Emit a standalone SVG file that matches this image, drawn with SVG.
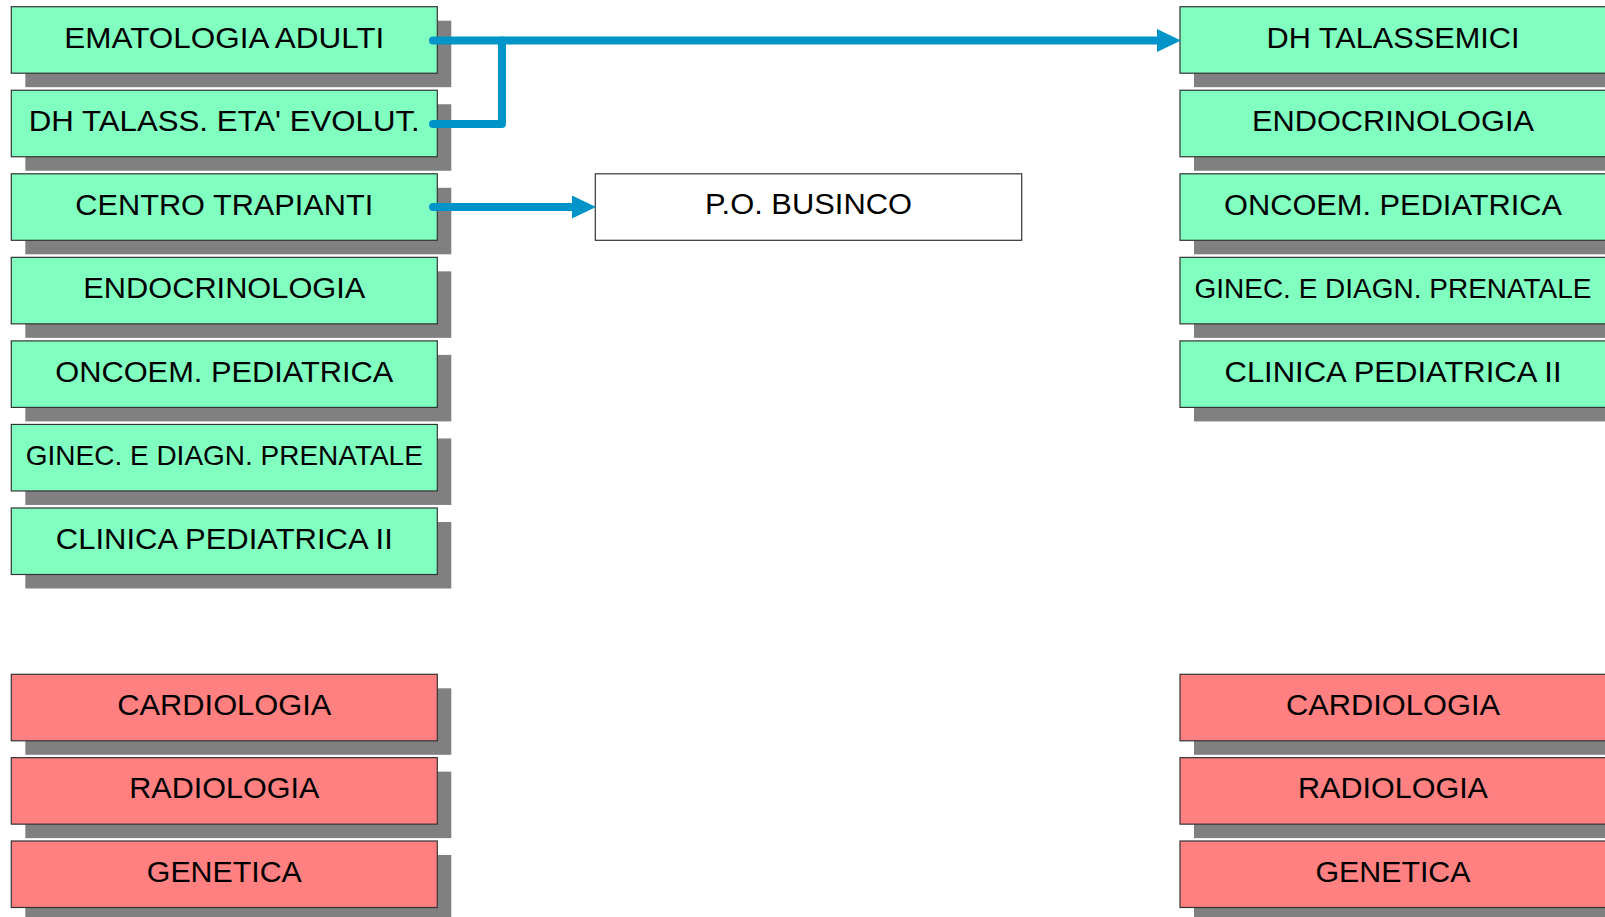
<svg xmlns="http://www.w3.org/2000/svg" width="1605" height="917" viewBox="0 0 1605 917">
<style>
.sh{fill:#808080}
.g{fill:#80ffc0;stroke:#333;stroke-width:1.2}
.r{fill:#ff8080;stroke:#333;stroke-width:1.2}
.w{fill:#fff;stroke:#333;stroke-width:1.2}
text{font-family:"Liberation Sans",Arial,sans-serif;font-size:29px;fill:#000;text-anchor:middle}
.s{font-size:28px}
.c{fill:none;stroke:#0094c8;stroke-width:8;stroke-linecap:round;stroke-linejoin:round}
</style>
<defs>
<marker id="ah" markerUnits="userSpaceOnUse" markerWidth="26" markerHeight="26" refX="0" refY="11.5" orient="auto" overflow="visible">
<path d="M0,0 L24,11.5 L0,23 Z" fill="#0094c8"/>
</marker>
</defs>
<rect width="1605" height="917" fill="#fff"/>

<g id="l1"><rect class="sh" x="25.3" y="20.7" width="426" height="66.5"/><rect class="g" x="11.3" y="6.7" width="426" height="66.5"/><text x="224.3" y="47.7" textLength="320" lengthAdjust="spacingAndGlyphs">EMATOLOGIA ADULTI</text></g>
<g id="l2"><rect class="sh" x="25.3" y="104.25" width="426" height="66.5"/><rect class="g" x="11.3" y="90.25" width="426" height="66.5"/><text x="224.3" y="131.2" textLength="391" lengthAdjust="spacingAndGlyphs">DH TALASS. ETA' EVOLUT.</text></g>
<g id="l3"><rect class="sh" x="25.3" y="187.8" width="426" height="66.5"/><rect class="g" x="11.3" y="173.8" width="426" height="66.5"/><text x="224.3" y="214.8" textLength="298" lengthAdjust="spacingAndGlyphs">CENTRO TRAPIANTI</text></g>
<g id="l4"><rect class="sh" x="25.3" y="271.35" width="426" height="66.5"/><rect class="g" x="11.3" y="257.35" width="426" height="66.5"/><text x="224.3" y="298.3" textLength="282" lengthAdjust="spacingAndGlyphs">ENDOCRINOLOGIA</text></g>
<g id="l5"><rect class="sh" x="25.3" y="354.9" width="426" height="66.5"/><rect class="g" x="11.3" y="340.9" width="426" height="66.5"/><text x="224.3" y="381.9" textLength="338" lengthAdjust="spacingAndGlyphs">ONCOEM. PEDIATRICA</text></g>
<g id="l6"><rect class="sh" x="25.3" y="438.45" width="426" height="66.5"/><rect class="g" x="11.3" y="424.45" width="426" height="66.5"/><text class="s" x="224.3" y="465.4" textLength="397" lengthAdjust="spacingAndGlyphs">GINEC. E DIAGN. PRENATALE</text></g>
<g id="l7"><rect class="sh" x="25.3" y="522" width="426" height="66.5"/><rect class="g" x="11.3" y="508" width="426" height="66.5"/><text x="224.3" y="549" textLength="337" lengthAdjust="spacingAndGlyphs">CLINICA PEDIATRICA II</text></g>

<g id="l8"><rect class="sh" x="25.3" y="688.3" width="426" height="66.5"/><rect class="r" x="11.3" y="674.3" width="426" height="66.5"/><text x="224.3" y="715" textLength="214" lengthAdjust="spacingAndGlyphs">CARDIOLOGIA</text></g>
<g id="l9"><rect class="sh" x="25.3" y="771.65" width="426" height="66.5"/><rect class="r" x="11.3" y="757.65" width="426" height="66.5"/><text x="224.3" y="798.4" textLength="190" lengthAdjust="spacingAndGlyphs">RADIOLOGIA</text></g>
<g id="l10"><rect class="sh" x="25.3" y="855" width="426" height="66.5"/><rect class="r" x="11.3" y="841" width="426" height="66.5"/><text x="224.3" y="881.7" textLength="155" lengthAdjust="spacingAndGlyphs">GENETICA</text></g>

<g id="busi"><rect class="w" x="595.3" y="173.8" width="426.4" height="66.5"/><text x="808.5" y="214.2" textLength="207" lengthAdjust="spacingAndGlyphs">P.O. BUSINCO</text></g>

<g id="r1"><rect class="sh" x="1194" y="20.7" width="426" height="66.5"/><rect class="g" x="1180" y="6.7" width="426" height="66.5"/><text x="1393" y="47.7" textLength="253" lengthAdjust="spacingAndGlyphs">DH TALASSEMICI</text></g>
<g id="r2"><rect class="sh" x="1194" y="104.25" width="426" height="66.5"/><rect class="g" x="1180" y="90.25" width="426" height="66.5"/><text x="1393" y="131.2" textLength="282" lengthAdjust="spacingAndGlyphs">ENDOCRINOLOGIA</text></g>
<g id="r3"><rect class="sh" x="1194" y="187.8" width="426" height="66.5"/><rect class="g" x="1180" y="173.8" width="426" height="66.5"/><text x="1393" y="214.8" textLength="338" lengthAdjust="spacingAndGlyphs">ONCOEM. PEDIATRICA</text></g>
<g id="r4"><rect class="sh" x="1194" y="271.35" width="426" height="66.5"/><rect class="g" x="1180" y="257.35" width="426" height="66.5"/><text class="s" x="1393" y="298.3" textLength="397" lengthAdjust="spacingAndGlyphs">GINEC. E DIAGN. PRENATALE</text></g>
<g id="r5"><rect class="sh" x="1194" y="354.9" width="426" height="66.5"/><rect class="g" x="1180" y="340.9" width="426" height="66.5"/><text x="1393" y="381.9" textLength="337" lengthAdjust="spacingAndGlyphs">CLINICA PEDIATRICA II</text></g>

<g id="r6"><rect class="sh" x="1194" y="688.3" width="426" height="66.5"/><rect class="r" x="1180" y="674.3" width="426" height="66.5"/><text x="1393" y="715" textLength="214" lengthAdjust="spacingAndGlyphs">CARDIOLOGIA</text></g>
<g id="r7"><rect class="sh" x="1194" y="771.65" width="426" height="66.5"/><rect class="r" x="1180" y="757.65" width="426" height="66.5"/><text x="1393" y="798.4" textLength="190" lengthAdjust="spacingAndGlyphs">RADIOLOGIA</text></g>
<g id="r8"><rect class="sh" x="1194" y="855" width="426" height="66.5"/><rect class="r" x="1180" y="841" width="426" height="66.5"/><text x="1393" y="881.7" textLength="155" lengthAdjust="spacingAndGlyphs">GENETICA</text></g>

<g id="connectors">
<path class="c" d="M433,40.5 H1157" marker-end="url(#ah)"/>
<path class="c" d="M433,124 H502 V40.5"/>
<path class="c" d="M433,207 H572" marker-end="url(#ah)"/>
</g>
</svg>
